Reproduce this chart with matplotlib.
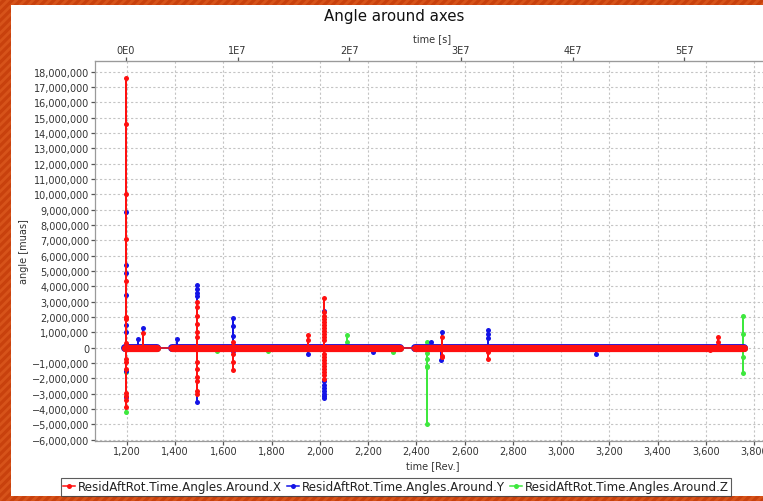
import matplotlib
matplotlib.use("Agg")
import matplotlib.pyplot as plt
from matplotlib.patches import Rectangle
from matplotlib.ticker import FuncFormatter, MultipleLocator, FixedLocator

plt.rcParams["font.family"] = ["DejaVu Sans"]
plt.rcParams["hatch.linewidth"] = 2.0

SEC_PER_REV = 21600.0   # one revolution = 6 h
REV_ZERO = 1196.0       # revolution at t = 0 s
MILLION = 1e6

# stretches where all three residuals stay close to zero (revolutions)
band_start = [1192, 1387, 2394]
band_end = [1324, 2332, 3758]

# Around.X excursions: revolution and the residuals there [million muas]
x_spike_rev = [1195, 1268, 1489, 1638, 1951, 2018, 2442, 2505, 2698, 3617, 3652]
x_spike_val = [
    [0.3, 2.0, 4.33, 7.1, 10.0, 14.6, 17.6, 1.9, -0.74, -0.95, -1.4,
     -2.97, -3.13, -3.41, -3.89],
    [0.94],
    [2.96, 2.63, 2.09, 1.55, 1.0, 0.68, -0.95, -1.39, -1.93, -2.15, -2.8, -3.02],
    [0.35, -0.41, -0.95, -1.43],
    [0.83, 0.5],
    [3.24, 2.3, 2.1, 1.9, 1.7, 1.5, 1.3, 1.1, 0.9, 0.7, 0.5, -0.4,
     -0.6, -0.8, -1.0, -1.2, -1.4, -1.6, -1.8, -2.04],
    [-0.1],
    [0.68, -0.52, -0.63],
    [-0.3, -0.74],
    [-0.15],
    [0.68, 0.39],
]

# Around.Y excursions
y_spike_rev = [1195, 1247, 1268, 1406, 1489, 1638, 1951, 2018, 2220, 2459,
               2500, 2505, 2698, 3144]
y_spike_val = [
    [0.2, 1.04, 3.46, 4.86, 5.4, 8.83, 1.5, -1.5, -3.24],
    [0.57],
    [1.29],
    [0.57],
    [4.09, 3.83, 3.6, 3.4, -3.52],
    [1.92, 1.44, 0.78, -0.2],
    [-0.41],
    [2.41, -2.2, -2.4, -2.6, -2.8, -3.0, -3.15, -3.28],
    [-0.26],
    [0.35],
    [-0.8],
    [1.04],
    [1.15, 0.89, 0.61],
    [-0.41],
]

# Around.Z excursions
z_spike_rev = [1195, 1572, 1785, 2111, 2303, 2442, 3755]
z_spike_val = [
    [-4.21, -1.6, 0.2],
    [-0.2],
    [-0.2],
    [0.85, 0.35],
    [-0.26],
    [0.4, -0.35, -0.74, -1.21, -4.98, -1.28],
    [2.05, 0.89, -0.63, -1.65],
]

series_names = ["ResidAftRot.Time.Angles.Around.X",
                "ResidAftRot.Time.Angles.Around.Y",
                "ResidAftRot.Time.Angles.Around.Z"]
series_colors = ["#ff1010", "#1414e6", "#3ee83e"]
band_widths = [5.2, 5.7, 5.0]


def trace(spike_rev, spike_val):
    """Time-ordered trace: baseline ends plus each excursion leaving and
    returning to zero at its own revolution."""
    pts = [(s, 0.0) for s in band_start] + [(e, 0.0) for e in band_end]
    for r, vals in zip(spike_rev, spike_val):
        pts.append((r, 0.0))
        pts.extend((r, v) for v in vals)
        pts.append((r, 0.0))
    order = sorted(range(len(pts)), key=lambda i: (pts[i][0], i))
    revs = [pts[i][0] for i in order]
    vals = [pts[i][1] * MILLION for i in order]
    return revs, vals


fig = plt.figure(figsize=(7.63, 5.02), dpi=100)

# striped orange frame and white panel
frame = Rectangle((0, 0), 1, 1, transform=fig.transFigure, facecolor="#c8410d",
                  edgecolor="#d6531a", hatch="////", lw=0, zorder=-3)
panel = Rectangle((11 / 763, 5 / 502), 1 - 11 / 763, 491 / 502, transform=fig.transFigure,
                  facecolor="white", edgecolor="none", zorder=-2)
fig.patches.extend([frame, panel])

ax = fig.add_axes([95 / 763, 60.3 / 502, 675 / 763, 380 / 502])
ax.set_xlim(1067.3, 3866)
ax.set_ylim(-6.065e6, 18.72e6)

ax.grid(True, color="#c4c4c4", lw=0.8, ls=(0, (2, 2)))
ax.set_axisbelow(True)

spikes = [(x_spike_rev, x_spike_val), (y_spike_rev, y_spike_val),
          (z_spike_rev, z_spike_val)]
zorders = [6, 5, 4]
handles = []
for (srev, sval), name, col, bw, zo in zip(spikes, series_names, series_colors,
                                           band_widths, zorders):
    for s, e in zip(band_start, band_end):
        ax.plot([s, e], [0, 0], color=col, lw=bw, solid_capstyle="round", zorder=zo)
    revs, vals = trace(srev, sval)
    h, = ax.plot(revs, vals, color=col, lw=1.1, marker="o", markersize=3.6,
                 markeredgewidth=0, label=name, zorder=zo)
    handles.append(h)

for side in ["left", "bottom", "top"]:
    ax.spines[side].set_color("#9a9a9a")
    ax.spines[side].set_linewidth(0.9)
ax.spines["right"].set_visible(False)

ax.xaxis.set_major_locator(MultipleLocator(200))
ax.yaxis.set_major_locator(MultipleLocator(1e6))


def comma_fmt(v, pos=None):
    s = f"{abs(v):,.0f}"
    return ("\u2212" + s) if v < 0 else s


ax.xaxis.set_major_formatter(FuncFormatter(comma_fmt))
ax.yaxis.set_major_formatter(FuncFormatter(comma_fmt))
ax.tick_params(axis="both", labelsize=7, length=3, width=0.9, color="#555555",
               labelcolor="#333333", pad=1)

ax.set_xlabel("time [Rev.]", fontsize=7, color="#333333", labelpad=3)
ax.set_ylabel("angle [muas]", fontsize=7, color="#333333", labelpad=2)

# elapsed time in seconds on the top axis
sec = ax.secondary_xaxis("top", functions=(lambda r: (r - REV_ZERO) * SEC_PER_REV,
                                           lambda t: t / SEC_PER_REV + REV_ZERO))
sec.xaxis.set_major_locator(FixedLocator([0, 1e7, 2e7, 3e7, 4e7, 5e7]))
sec.xaxis.set_major_formatter(FuncFormatter(
    lambda v, p: "0E0" if v == 0 else f"{v / 1e7:.0f}E7"))
sec.tick_params(labelsize=7, length=3, width=0.9, color="#555555",
                labelcolor="#333333", pad=1)
sec.spines["top"].set_color("#9a9a9a")
sec.set_xlabel("time [s]", fontsize=7, color="#333333", labelpad=3)

fig.text(394 / 763, 1 - 16.5 / 502, "Angle around axes", ha="center", va="center",
         fontsize=10.8, color="#111111")

leg = fig.legend(handles=handles, loc="center", bbox_to_anchor=(396 / 763, 1 - 488 / 502),
                 ncol=3, fontsize=8.6, frameon=True, fancybox=False, borderpad=0.2,
                 handlelength=1.0, handletextpad=0.25, columnspacing=0.4)
leg.get_frame().set_edgecolor("#333333")
leg.get_frame().set_linewidth(0.8)
for t in leg.get_texts():
    t.set_color("#222222")

fig.savefig("out.png", dpi=100)
